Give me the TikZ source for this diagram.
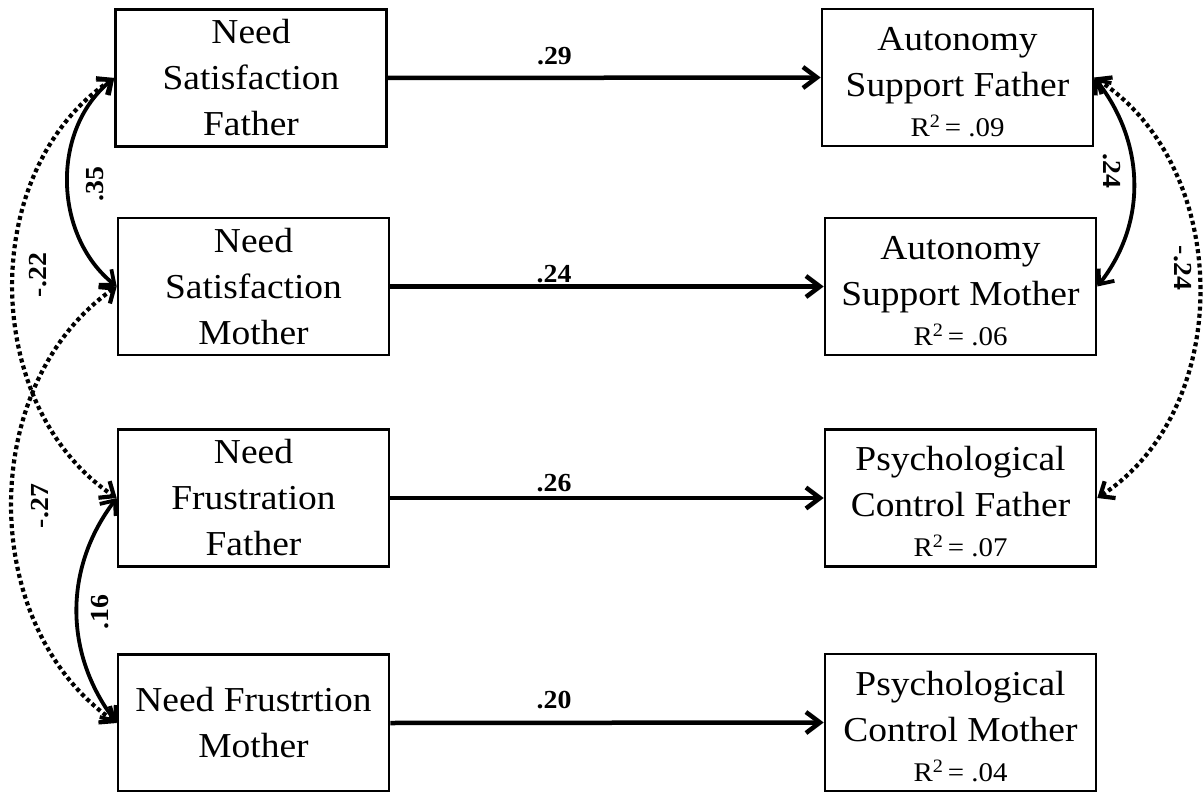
\documentclass[tikz,border=0pt]{standalone}
\usepackage{fontspec}
\setmainfont{Liberation Serif}[FakeStretch=1.07]
\usetikzlibrary{arrows.meta}
\newcommand\rsqline[1]{{\fontsize{27}{30}\selectfont R\textsuperscript{2}\,= #1}}
\newcommand\topstrut{\rule{0pt}{32pt}}
\begin{document}
\begin{tikzpicture}[x=1pt,y=1pt,
  box/.style={draw, line width=2.6pt, minimum width=271pt, minimum height=137pt,
    inner sep=0pt, align=center, font=\fontsize{35}{46}\selectfont},
  reg/.style={line width=4.5pt, -{Straight Barb[length=14pt,width=21pt]}},
  cov/.style={line width=3.8pt, {Straight Barb[length=12pt,width=20pt]}-{Straight Barb[length=12pt,width=20pt]}},
  dots/.style={cov, line width=4.2pt, dash pattern=on 4pt off 3.2pt},
  lbl/.style={font=\bfseries\fontsize{26}{30}\selectfont, inner sep=0pt},
]
\useasboundingbox (0,0) rectangle (1203,-792);

% left column
\node[box] (nsf) at (251,-78) {Need\\Satisfaction\\Father};
\node[box] (nsm) at (253.5,-286.5) {Need\\Satisfaction\\Mother};
\node[box] (nff) at (253.5,-498) {Need\\Frustration\\Father};
\node[box] (nfm) at (253.5,-723) {Need Frustrtion\\Mother};

% right column
\node[box] (asf) at (957.5,-77.5) {\topstrut Autonomy\\Support Father\\[-6pt]\rsqline{.09}};
\node[box] (asm) at (960.5,-286.5) {\topstrut Autonomy\\Support Mother\\[-6pt]\rsqline{.06}};
\node[box] (pcf) at (960.5,-498) {\topstrut Psychological\\Control Father\\[-6pt]\rsqline{.07}};
\node[box] (pcm) at (960.5,-722.5) {\topstrut Psychological\\Control Mother\\[-6pt]\rsqline{.04}};

% regressions
\draw[reg] (nsf.east) -- node[lbl, pos=0.385, anchor=base, yshift=13pt] (l29) {.29} (asf.west);
\draw[reg] (nsm.east) -- node[lbl, pos=0.378, anchor=base, yshift=4pt] (l24a) {.24} (asm.west);
\draw[reg] (nff.east) -- node[lbl, pos=0.378, anchor=base, yshift=7pt] (l26) {.26} (pcf.west);
\draw[reg] (nfm.east) -- node[lbl, pos=0.378, anchor=base, yshift=14pt] (l20) {.20} (pcm.west);

% covariances left
\draw[cov] (nsf.west) to[out=219,in=141] (nsm.west);
\draw[cov] (nff.west) to[out=233,in=127] (nfm.west);
\draw[dots] (nsf.west) to[out=214,in=146] (nff.west);
\draw[dots] (nsm.west) to[out=215,in=145] (nfm.west);

% covariances right
\draw[cov] (asf.east) to[out=-52,in=52] (asm.east);
\draw[dots] (asf.east) to[out=-33,in=33] (pcf.east);

% covariance labels
\node[lbl, rotate=90] (l35) at (95,-184) {.35};
\node[lbl, rotate=90] (l22) at (38,-275) {-.22};
\node[lbl, rotate=90] (l27) at (40,-506) {-.27};
\node[lbl, rotate=90] (l16) at (100,-612) {.16};
\node[lbl, rotate=-90] (l24b) at (1112,-171) {.24};
\node[lbl, rotate=-90] (l24c) at (1183,-268) {-.24};
\end{tikzpicture}
\end{document}
